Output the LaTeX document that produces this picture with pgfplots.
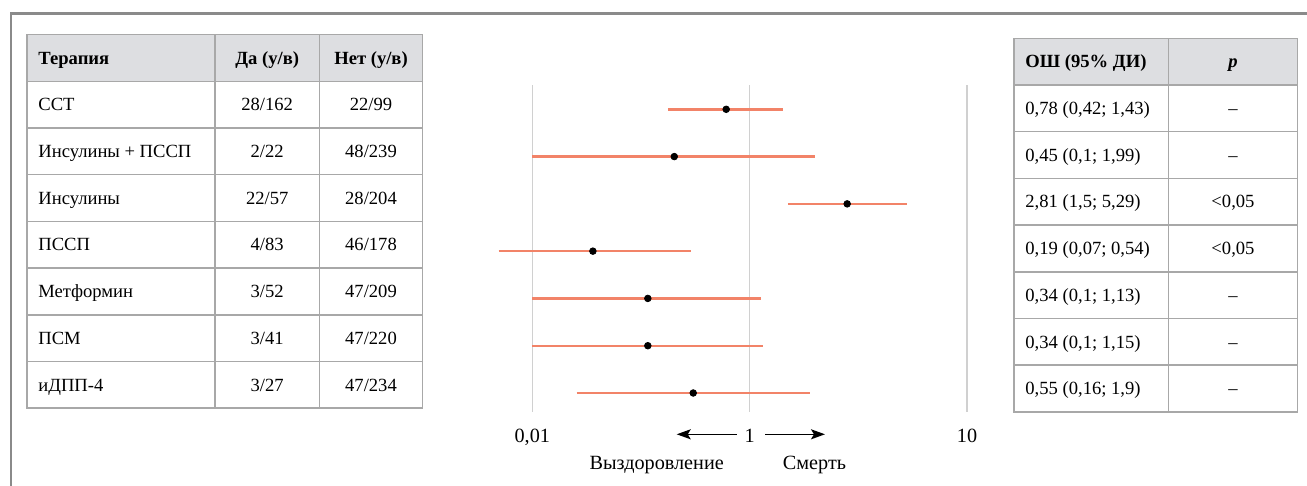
\documentclass[border=0pt]{standalone}
\usepackage{fontspec}
\setmainfont{Liberation Serif}
\usepackage{pgfplots}
\pgfplotsset{compat=1.18}
\usetikzlibrary{arrows.meta}
\definecolor{ci}{RGB}{242,131,104}
\definecolor{hdr}{RGB}{221,222,225}
\definecolor{tbl}{RGB}{168,168,168}
\definecolor{frm}{RGB}{138,138,138}
\definecolor{grd}{RGB}{208,208,208}
\newcommand\f{\fontsize{9.3pt}{11pt}\selectfont}
\newcommand\g{\fontsize{10.1pt}{12pt}\selectfont}
% left table row: #1 index, #2 name, #3 yes, #4 no
\newcommand\lrow[4]{%
  \node[anchor=base west] at (38,{34.6+46.7*(#1+0.5)+6.2}) {#2};
  \node[anchor=base] at (267.2,{34.6+46.7*(#1+0.5)+6.2}) {#3};
  \node[anchor=base] at (371,{34.6+46.7*(#1+0.5)+6.2}) {#4};}
\newcommand\rrow[3]{%
  \node[anchor=base west] at (1025,{38.3+46.7*(#1+0.5)+6.2}) {#2};
  \node[anchor=base] at (1233,{38.3+46.7*(#1+0.5)+6.2}) {#3};}
\begin{document}
\begin{tikzpicture}
\begin{scope}[x=0.5pt,y=-0.5pt,every node/.style={font=\f,inner sep=0pt}]
\useasboundingbox (0,0) rectangle (1307,486);
% outer frame
\draw[frm, line width=1.25pt] (11,486) -- (11,13.5) -- (1307,13.5);
% left table
\fill[hdr] (27,34.6) rectangle (422.5,81.3);
\draw[tbl, line width=0.75pt] (27,34.6) rectangle (422.5,408.2);
\foreach \k in {1,...,7} \draw[tbl, line width=0.75pt] (27,{34.6+46.7*\k}) -- (422.5,{34.6+46.7*\k});
\foreach \xx in {215,319.5} \draw[tbl, line width=0.75pt] (\xx,34.6) -- (\xx,408.2);
\lrow{0}{\textbf{Терапия}}{\textbf{Да (у/в)}}{\textbf{Нет (у/в)}}
\lrow{1}{ССТ}{28/162}{22/99}
\lrow{2}{Инсулины + ПССП}{2/22}{48/239}
\lrow{3}{Инсулины}{22/57}{28/204}
\lrow{4}{ПССП}{4/83}{46/178}
\lrow{5}{Метформин}{3/52}{47/209}
\lrow{6}{ПСМ}{3/41}{47/220}
\lrow{7}{иДПП-4}{3/27}{47/234}
% right table
\fill[hdr] (1014,38.3) rectangle (1297.7,85.0);
\draw[tbl, line width=0.75pt] (1014,38.3) rectangle (1297.7,411.9);
\foreach \k in {1,...,7} \draw[tbl, line width=0.75pt] (1014,{38.3+46.7*\k}) -- (1297.7,{38.3+46.7*\k});
\draw[tbl, line width=0.75pt] (1168.3,38.3) -- (1168.3,411.9);
\rrow{0}{\textbf{ОШ (95\% ДИ)}}{\textbf{\textit{p}}}
\rrow{1}{0,78 (0,42; 1,43)}{–}
\rrow{2}{0,45 (0,1; 1,99)}{–}
\rrow{3}{2,81 (1,5; 5,29)}{<0,05}
\rrow{4}{0,19 (0,07; 0,54)}{<0,05}
\rrow{5}{0,34 (0,1; 1,13)}{–}
\rrow{6}{0,34 (0,1; 1,15)}{–}
\rrow{7}{0,55 (0,16; 1,9)}{–}
% direction arrows and labels
\draw[line width=0.75pt, -{Stealth[length=7pt,width=5pt,inset=1.5pt]}] (736.7,434.3) -- (676.7,434.3);
\draw[line width=0.75pt, -{Stealth[length=7pt,width=5pt,inset=1.5pt]}] (765,434.3) -- (825,434.3);
\node[anchor=base, font=\g] at (656.7,469.3) {Выздоровление};
\node[anchor=base, font=\g] at (814.5,469.3) {Смерть};
\end{scope}
\begin{axis}[
  at={(242.05pt,-42.5pt)}, anchor=north west,
  scale only axis, width=241.45pt, height=163.5pt,
  xmode=log, xmin=0.06, xmax=10,
  ymin=-7.402, ymax=-0.486,
  axis line style={draw=none}, tick style={draw=none},
  xtick={0.1,1,10}, xticklabels={{0,01},1,10},
  ytick=\empty, minor xtick={},
  xmajorgrids, grid style={grd, line width=0.65pt},
  xticklabel style={font=\g, anchor=base, yshift=-15.15pt, inner sep=0pt},
  clip=false,
]
\addplot[ci, line width=1.2pt] coordinates {(0.42,-1) (1.43,-1)};
\addplot[ci, line width=1.2pt] coordinates {(0.1,-2) (1.99,-2)};
\addplot[ci, line width=1.2pt] coordinates {(1.5,-3) (5.29,-3)};
\addplot[ci, line width=1.2pt] coordinates {(0.07,-4) (0.54,-4)};
\addplot[ci, line width=1.2pt] coordinates {(0.1,-5) (1.13,-5)};
\addplot[ci, line width=1.2pt] coordinates {(0.1,-6) (1.15,-6)};
\addplot[ci, line width=1.2pt] coordinates {(0.16,-7) (1.9,-7)};
\addplot[only marks, mark=*, mark size=1.65pt, black] coordinates {
  (0.78,-1) (0.45,-2) (2.81,-3) (0.19,-4) (0.34,-5) (0.34,-6) (0.55,-7)};
\end{axis}
\end{tikzpicture}
\end{document}
